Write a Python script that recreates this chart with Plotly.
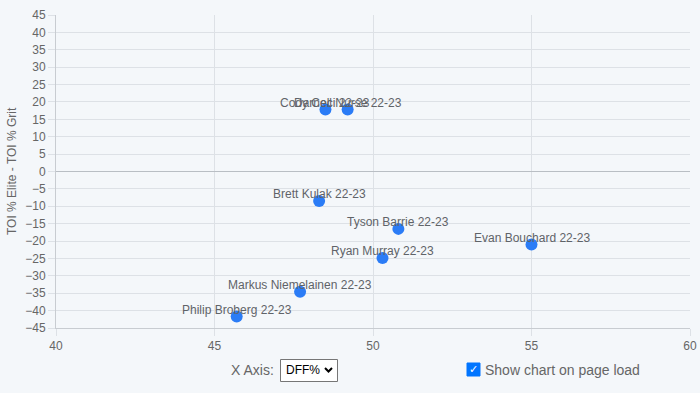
import plotly.graph_objects as go

players = ["Cody Ceci 22-23", "Darnell Nurse 22-23", "Brett Kulak 22-23", "Tyson Barrie 22-23",
           "Evan Bouchard 22-23", "Ryan Murray 22-23", "Markus Niemelainen 22-23", "Philip Broberg 22-23"]
dff_pct = [48.5, 49.2, 48.3, 50.8, 55.0, 50.3, 47.7, 45.7]
toi_diff = [17.8, 17.8, -8.5, -16.5, -21.0, -24.9, -34.6, -41.7]

x_ticks = [40, 45, 50, 55, 60]
y_ticks = list(range(-45, 50, 5))

W, H = 700, 393
L, R, T, B = 56, 690, 15, 328
BG = "#f4f7fa"
GRID = "#dde1e6"
TXT = "#666666"
FONT = "Liberation Sans, Arial, sans-serif"


def px_x(p):
    return (p - L) / (R - L)


def px_y(p):
    return (B - p) / (B - T)


fig = go.Figure()
fig.add_trace(go.Scatter(
    x=dff_pct, y=toi_diff, mode="markers",
    marker=dict(size=12, color="#2b7cf6", line=dict(width=0)),
    hovertext=players, hoverinfo="text", showlegend=False, cliponaxis=False,
))

annotations = []
for name, xv, yv in zip(players, dff_pct, toi_diff):
    annotations.append(dict(x=xv, y=yv, xref="x", yref="y", text=name, showarrow=False,
                            yshift=7, font=dict(size=12, color="#5f6368", family=FONT)))

# Bottom HTML-like controls
annotations.append(dict(x=px_x(276), y=px_y(370), xref="paper", yref="paper", text="X Axis:",
                        showarrow=False, xanchor="right", yanchor="middle",
                        font=dict(size=14, color=TXT, family=FONT)))
annotations.append(dict(x=px_x(284), y=px_y(370), xref="paper", yref="paper", text="DFF%",
                        showarrow=False, xanchor="left", yanchor="middle",
                        font=dict(size=12, color="#000000", family=FONT)))
annotations.append(dict(x=px_x(483), y=px_y(370), xref="paper", yref="paper",
                        text="Show chart on page load", showarrow=False, xanchor="left",
                        yanchor="middle", font=dict(size=14, color=TXT, family=FONT)))
annotations.append(dict(x=px_x(473.5), y=px_y(369.5), xref="paper", yref="paper", text="<b>✓</b>",
                        showarrow=False, xanchor="center", yanchor="middle",
                        font=dict(size=11, color="#ffffff", family="DejaVu Sans")))
annotations.append(dict(x=px_x(12), y=px_y(171), xref="paper", yref="paper",
                        text="TOI % Elite - TOI % Grit", showarrow=False, textangle=-90,
                        xanchor="center", yanchor="middle",
                        font=dict(size=12, color=TXT, family=FONT)))

shapes = [
    # select box
    dict(type="rect", xref="paper", yref="paper", x0=px_x(280.5), x1=px_x(337.5),
         y0=px_y(381.5), y1=px_y(359.5), fillcolor="#ffffff",
         line=dict(color="#767676", width=1), layer="below"),
    # chevron
    dict(type="path", xref="paper", yref="paper",
         path=f"M {px_x(325)} {px_y(368)} L {px_x(328.5)} {px_y(371.5)} L {px_x(332)} {px_y(368)}",
         line=dict(color="#000000", width=2)),
    # checkbox
    dict(type="rect", xref="paper", yref="paper", x0=px_x(467), x1=px_x(480),
         y0=px_y(376), y1=px_y(363), fillcolor="#0075ff",
         line=dict(color="#0075ff", width=1)),
]

fig.update_layout(
    width=W, height=H, autosize=False,
    margin=dict(l=L, r=W - R, t=T, b=H - B, pad=0, autoexpand=False),
    paper_bgcolor=BG, plot_bgcolor=BG,
    font=dict(family=FONT, size=12, color=TXT),
    xaxis=dict(range=[40, 60], tickvals=x_ticks, ticks="outside", ticklen=7, tickcolor=GRID,
               showgrid=True, gridcolor=GRID, gridwidth=1, zeroline=False, automargin=False,
               showline=True, linecolor="#c8ccd1", linewidth=1, mirror=False,
               tickfont=dict(size=12, color=TXT), fixedrange=True),
    yaxis=dict(range=[-45, 45], tickvals=y_ticks, ticks="outside", ticklen=7, tickcolor=GRID,
               showgrid=True, gridcolor=GRID, gridwidth=1, zeroline=True, automargin=False,
               zerolinecolor="#b9bec4", zerolinewidth=1,
               showline=True, linecolor="#c8ccd1", linewidth=1,
               tickfont=dict(size=12, color=TXT), fixedrange=True),
    annotations=annotations,
    shapes=shapes,
    hovermode="closest",
)

fig.write_html(
    "out.html",
    config={"displayModeBar": False},
    post_script=(
        "var s=document.documentElement.style;s.margin='0';s.padding='0';s.overflow='hidden';"
        "s.background='#f4f7fa';"
        "var b=document.body.style;b.margin='0';b.padding='0';b.overflow='hidden';"
        "b.background='#f4f7fa';"
    ),
)
